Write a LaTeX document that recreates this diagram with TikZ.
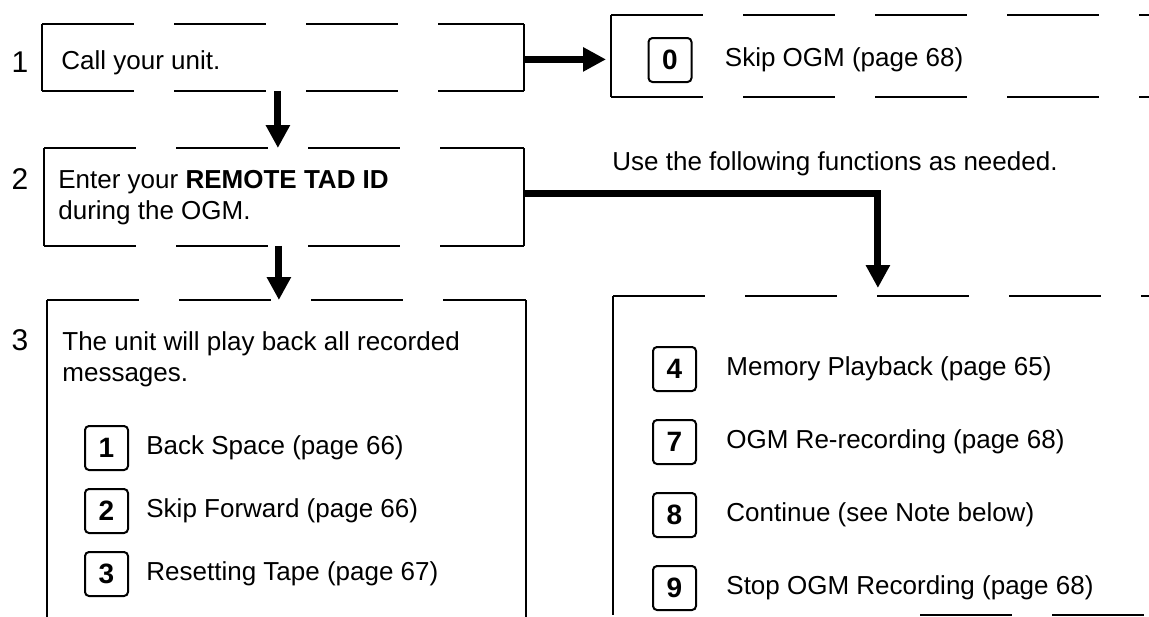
\documentclass[tikz,border=0pt]{standalone}
\usepackage{fontspec}
\setmainfont{Liberation Sans}
\usetikzlibrary{arrows.meta,positioning}
\tikzset{
  panel/.style = {draw=none, inner sep=0pt, anchor=north west},
  rim/.style   = {line width=0.7pt, dash pattern=on 46pt off 20pt},
  side/.style  = {line width=0.7pt},
  key/.style   = {draw, line width=1pt, rounded corners=2pt, minimum width=21.5pt,
                  minimum height=22pt, inner sep=0pt,
                  font=\fontsize{14}{14}\selectfont\bfseries},
  stepno/.style = {anchor=base, inner sep=0pt, font=\fontsize{15}{15}\selectfont},
  txt/.style   = {inner sep=0pt, align=left, font=\fontsize{13}{15.5}\selectfont},
  flow/.style  = {line width=3.5pt, -{Triangle[length=11.5pt,width=11.5pt]}},
}

\begin{document}
\begin{tikzpicture}[x=0.5pt,y=-0.5pt]
  \useasboundingbox (0,0) rectangle (1149,616);
  \node[panel, minimum width=240.5pt, minimum height=33pt]   (box1) at (42,24) {};
  \node[panel, minimum width=284.5pt, minimum height=40.5pt] (box0) at (611,15) {};
  \node[panel, minimum width=239.5pt, minimum height=48.5pt] (box2) at (44,148) {};
  \node[panel, minimum width=239pt, minimum height=170pt]    (box3) at (47,300) {};
  \node[panel, minimum width=283.5pt, minimum height=159pt]  (box4) at (613,296) {};
  \foreach \b in {box0,box1,box2,box3}
    {\draw[rim] (\b.north west) -- (\b.north east) (\b.south west) -- (\b.south east);
     \draw[side] (\b.north west) -- (\b.south west) (\b.north east) -- (\b.south east);}
  \draw[rim] (box4.north west) -- (box4.north east);
  \draw[side] (box4.north west) -- (box4.south west);
  \draw[rim] (box4.south west -| 920,0) -- (box4.south east);

  \node[stepno] (n1) at (20,72)  {1};
  \node[stepno] (n2) at (20,189) {2};
  \node[stepno] (n3) at (20,350) {3};
  \node[txt, anchor=west] (t1) at (61,63) {Call your unit.};
  \node[txt, anchor=north west] (t2) at (58,170)
    {Enter your \textbf{REMOTE TAD ID}\\during the OGM.};
  \node[txt, anchor=north west] (t3) at (62,331)
    {The unit will play back all recorded\\messages.};
  \node[txt, anchor=west] (use) at (612,164) {Use the following functions as needed.};

  \node[key] (k0) at (670,60) {0};
  \node[txt, right=16pt of k0] (s0) {Skip OGM (page 68)};
  \foreach \n/\y/\t in {1/448/{Back Space (page 66)}, 2/511/{Skip Forward (page 66)},
                        3/574/{Resetting Tape (page 67)}}
    {\node[key] (k\n) at (106.5,\y) {\n};
     \node[txt, right=8.5pt of k\n] (s\n) {\t};}
  \foreach \n/\y/\t in {4/369/{Memory Playback (page 65)}, 7/442/{OGM Re-recording (page 68)},
                        8/515/{Continue (see Note below)}, 9/588/{Stop OGM Recording (page 68)}}
    {\node[key] (k\n) at (674.5,\y) {\n};
     \node[txt, right=14.5pt of k\n] (s\n) {\t};}

  \draw[flow, shorten >=2.5pt] ([yshift=-1pt]box1.east) -- ([yshift=-1pt]box1.east -| box0.west);
  \draw[flow] ([xshift=-2.5pt]box1.south) -- ([xshift=-2.5pt]box1.south |- box2.north);
  \draw[flow] ([xshift=-2.5pt]box2.south) -- ([xshift=-2.5pt]box2.south |- box3.north);
  \draw[flow, shorten >=4pt] ([yshift=1.5pt]box2.east) -| ([xshift=-9.5pt]box4.north);
\end{tikzpicture}
\end{document}
